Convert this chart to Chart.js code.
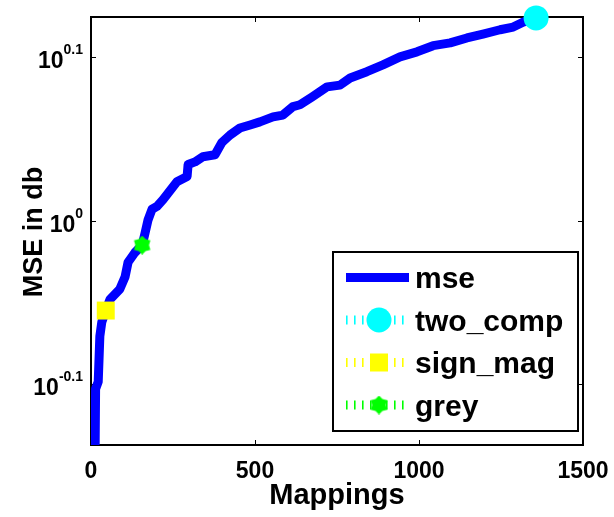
<!DOCTYPE html>
<html>
<head>
<meta charset="utf-8">
<script src="https://cdn.jsdelivr.net/npm/chart.js@4/dist/chart.umd.min.js"></script>
<style>
html,body{margin:0;padding:0;background:#fff;}
#wrap{width:614px;height:517px;position:relative;}
</style>
</head>
<body>
<div id="wrap"><canvas id="c" width="614" height="517"></canvas></div>
<script>
// ---- data ----
const mappings = [10, 14, 22, 27, 33, 45, 58, 88, 104, 113, 134, 156, 165, 174, 186, 201, 220, 262, 293, 296, 317, 341, 378, 399, 424, 454, 485, 515, 555, 585, 616, 637, 674, 720, 759, 790, 841, 890, 942, 994, 1043, 1095, 1146, 1195, 1247, 1287, 1317, 1357];
const mse = [0.62, 0.789, 0.797, 0.850, 0.867, 0.881, 0.895, 0.908, 0.924, 0.943, 0.956, 0.966, 0.983, 1.001, 1.016, 1.020, 1.030, 1.056, 1.064, 1.082, 1.086, 1.094, 1.097, 1.116, 1.128, 1.139, 1.144, 1.149, 1.157, 1.160, 1.174, 1.177, 1.190, 1.207, 1.210, 1.222, 1.233, 1.245, 1.259, 1.268, 1.279, 1.284, 1.293, 1.300, 1.308, 1.313, 1.322, 1.330];
const markerLabels = ['two_comp', 'sign_mag', 'grey'];
const markerX = [1357, 45, 156];
const markerY = [1.330, 0.881, 0.966];
const xTicks = [0, 500, 1000, 1500];
const yTickExps = [-0.1, 0, 0.1];
const yTickLabels = ['-0.1', '0', '0.1'];
const xRange = [0, 1500];
const yRange = [Math.pow(10, -0.1372), Math.pow(10, 0.1244)];

// ---- styles ----
const FONT = '"Liberation Sans", Arial, sans-serif';
const colors = ['#0000ff', '#00ffff', '#ffff00', '#00ff00'];

function hexagram(size, color){
  const cv = document.createElement('canvas');
  cv.width = size; cv.height = size;
  const g = cv.getContext('2d');
  const c = size/2, ro = size/2, ri = size/2*0.72;
  g.beginPath();
  for(let i=0;i<12;i++){
    const r = i%2===0 ? ro : ri;
    const a = -Math.PI/2 + i*Math.PI/6;
    const px = c + r*Math.cos(a), py = c + r*Math.sin(a);
    if(i===0) g.moveTo(px,py); else g.lineTo(px,py);
  }
  g.closePath();
  g.fillStyle = color; g.fill();
  return cv;
}
const hexImg = hexagram(19, colors[3]);
const markerStyles = ['circle', 'rect', hexImg];
const markerRadius = [12.5, 12.7, 9.5];

const datasets = [{
  label: 'mse',
  data: mappings.map((m,i)=>({x:m, y:mse[i]})),
  borderColor: colors[0],
  backgroundColor: colors[0],
  borderWidth: 9,
  pointRadius: 0,
  tension: 0,
  order: 1,
  borderJoinStyle: 'round',
  borderCapStyle: 'round'
}];
markerLabels.forEach((lab,i)=>{
  datasets.push({
    label: lab,
    data: [{x: markerX[i], y: markerY[i]}],
    showLine: false,
    pointStyle: markerStyles[i],
    pointRadius: markerRadius[i],
    pointBackgroundColor: colors[i+1],
    pointBorderColor: colors[i+1],
    pointBorderWidth: 0,
    clip: false,
    order: 0
  });
});

function line(ctx,x1,y1,x2,y2){ctx.beginPath();ctx.moveTo(x1,y1);ctx.lineTo(x2,y2);ctx.stroke();}

const deco = {
  id: 'deco',
  beforeDatasetsDraw(chart){
    const {ctx, chartArea:a, scales:{x,y}} = chart;
    ctx.save();
    ctx.strokeStyle = '#000';
    ctx.lineWidth = 1;
    xTicks.forEach(v=>{
      const px = Math.round(x.getPixelForValue(v))+0.5;
      line(ctx, px, a.bottom, px, a.bottom-5);
      line(ctx, px, a.top, px, a.top+5);
    });
    yTickExps.forEach(e=>{
      const py = Math.round(y.getPixelForValue(Math.pow(10,e)))+0.5;
      line(ctx, a.left, py, a.left+5, py);
      line(ctx, a.right, py, a.right-5, py);
    });
    ctx.lineWidth = 2;
    ctx.strokeRect(a.left, a.top, a.right-a.left, a.bottom-a.top);
    ctx.restore();
  },
  afterDraw(chart){
    const {ctx, chartArea:a, scales:{x,y}} = chart;
    ctx.save();
    ctx.fillStyle = '#000';
    // x tick labels
    ctx.font = 'bold 23px ' + FONT;
    ctx.textAlign = 'center';
    ctx.textBaseline = 'alphabetic';
    xTicks.forEach(v=>{
      ctx.fillText(String(v), x.getPixelForValue(v), a.bottom+33);
    });
    // y tick labels 10^e
    yTickExps.forEach((e,i)=>{
      const py = y.getPixelForValue(Math.pow(10,e));
      ctx.font = 'bold 14px ' + FONT;
      const ws = ctx.measureText(yTickLabels[i]).width;
      ctx.font = 'bold 23px ' + FONT;
      const wb = ctx.measureText('10').width;
      const right = a.left - 8;
      ctx.textAlign = 'left';
      ctx.fillText('10', right - ws - wb, py + 11);
      ctx.font = 'bold 14px ' + FONT;
      ctx.fillText(yTickLabels[i], right - ws, py - 3);
    });
    // axis titles
    ctx.textAlign = 'center';
    ctx.font = 'bold 29px ' + FONT;
    ctx.fillText('Mappings', (a.left+a.right)/2, 504);
    ctx.save();
    ctx.translate(42, (a.top+a.bottom)/2 + 1);
    ctx.rotate(-Math.PI/2);
    ctx.font = 'bold 27px ' + FONT;
    ctx.fillText('MSE in db', 0, 0);
    ctx.restore();
    // legend
    const L = {x1:333, y1:252, x2:578, y2:431};
    ctx.fillStyle = '#fff';
    ctx.fillRect(L.x1, L.y1, L.x2-L.x1, L.y2-L.y1);
    ctx.strokeStyle = '#000';
    ctx.lineWidth = 2;
    ctx.strokeRect(L.x1, L.y1, L.x2-L.x1, L.y2-L.y1);
    chart.data.datasets.forEach((ds,i)=>{
      const cy = 277.5 + 42.5*i;
      const col = colors[i];
      if(i===0){
        ctx.strokeStyle = col; ctx.lineWidth = 9; ctx.setLineDash([]);
        ctx.lineCap = 'butt';
        line(ctx, 346, cy, 409, cy);
      } else {
        ctx.strokeStyle = col; ctx.lineWidth = 9; ctx.lineCap = 'butt';
        ctx.setLineDash([1.6, 6.4]);
        line(ctx, 346, cy, 409, cy);
        ctx.setLineDash([]);
        ctx.fillStyle = col;
        const cx = 379;
        if(i===1){ ctx.beginPath(); ctx.arc(cx, cy, 12.5, 0, Math.PI*2); ctx.fill(); }
        else if(i===2){ ctx.fillRect(cx-9, cy-9, 18, 18); }
        else { ctx.drawImage(hexImg, cx-9.5, cy-9.5); }
      }
      ctx.fillStyle = '#000';
      ctx.font = 'bold 30px ' + FONT;
      ctx.textAlign = 'left';
      ctx.fillText(ds.label, 415, cy + 10.5);
    });
    ctx.restore();
  }
};

new Chart(document.getElementById('c'), {
  type: 'line',
  data: { datasets },
  options: {
    responsive: false,
    animation: false,
    devicePixelRatio: 1,
    layout: { padding: { top: 17, right: 31, left: 0, bottom: 0 } },
    plugins: { legend: { display: false }, tooltip: { enabled: false } },
    scales: {
      x: {
        type: 'linear', min: xRange[0], max: xRange[1],
        grid: { display: false }, border: { display: false },
        ticks: { display: false },
        afterFit(s){ s.height = 72; }
      },
      y: {
        type: 'logarithmic', min: yRange[0], max: yRange[1],
        grid: { display: false }, border: { display: false },
        ticks: { display: false },
        afterBuildTicks(s){ s.ticks = yTickExps.map(e=>({value: Math.pow(10,e)})); },
        afterFit(s){ s.width = 91; }
      }
    }
  },
  plugins: [deco]
});
</script>
</body>
</html>
